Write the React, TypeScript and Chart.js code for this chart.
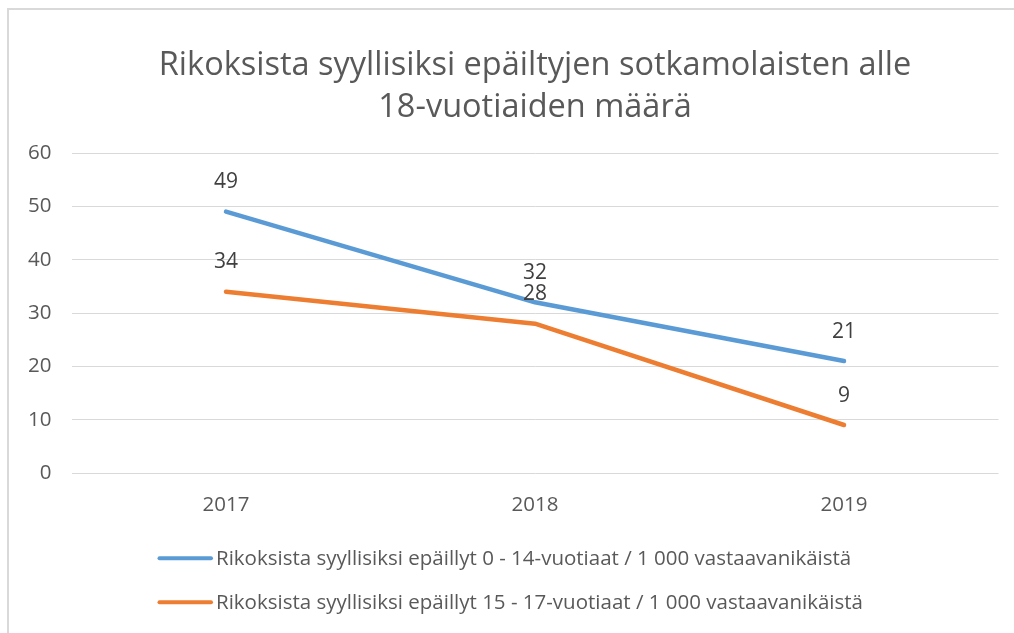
import React, { useEffect, useRef } from "react";
import { Chart, registerables } from "chart.js";

Chart.register(...registerables);

const TITLE_LINES = [
  "Rikoksista syyllisiksi epäiltyjen sotkamolaisten alle",
  "18-vuotiaiden määrä",
];
const YEARS = ["2017", "2018", "2019"];
const SERIES_LABELS = [
  "Rikoksista syyllisiksi epäillyt 0 - 14-vuotiaat / 1 000 vastaavanikäistä",
  "Rikoksista syyllisiksi epäillyt 15 - 17-vuotiaat / 1 000 vastaavanikäistä",
];
const VALUES_0_14 = [49, 32, 21];
const VALUES_15_17 = [34, 28, 9];
const SERIES_COLORS = ["#5B9BD5", "#ED7D31"];
const Y_MIN = 0;
const Y_MAX = 60;
const Y_STEP = 10;

const FONT = "'Open Sans', Lato, sans-serif";
const TEXT = "#595959";

const overlayPlugin = {
  id: "overlay",
  afterDatasetsDraw(chart: any) {
    const { ctx, chartArea } = chart;
    ctx.save();
    // data labels
    ctx.font = `21px ${FONT}`;
    ctx.fillStyle = "#404040";
    ctx.textAlign = "center";
    ctx.textBaseline = "alphabetic";
    chart.data.datasets.forEach((ds: any, i: number) => {
      const meta = chart.getDatasetMeta(i);
      meta.data.forEach((pt: any, j: number) => {
        ctx.fillText(String(ds.data[j]), pt.x, pt.y - 23.5);
      });
    });
    // title
    const cx = (chartArea.left + chartArea.right) / 2;
    ctx.font = `32.5px ${FONT}`;
    ctx.fillStyle = TEXT;
    TITLE_LINES.forEach((line, i) => {
      ctx.fillText(line, cx, 65 + i * 42);
    });
    // legend
    ctx.font = `20.5px ${FONT}`;
    ctx.textAlign = "left";
    chart.data.datasets.forEach((ds: any, i: number) => {
      const y = chartArea.bottom + 85.3 + i * 44;
      ctx.strokeStyle = ds.borderColor;
      ctx.lineWidth = 4;
      ctx.lineCap = "round";
      ctx.beginPath();
      ctx.moveTo(150.5, y);
      ctx.lineTo(202, y);
      ctx.stroke();
      ctx.fillStyle = TEXT;
      ctx.fillText(ds.label, 207, y + 6.5);
    });
    ctx.restore();
  },
};

export default function App() {
  const ref = useRef<HTMLCanvasElement | null>(null);
  useEffect(() => {
    if (!ref.current) return;
    const chart = new Chart(ref.current, {
      type: "line",
      data: {
        labels: YEARS,
        datasets: [
          {
            label: SERIES_LABELS[0],
            data: VALUES_0_14,
            borderColor: SERIES_COLORS[0],
            backgroundColor: SERIES_COLORS[0],
            borderWidth: 4.5,
            pointRadius: 0,
            borderCapStyle: "round",
            borderJoinStyle: "round",
            tension: 0,
          },
          {
            label: SERIES_LABELS[1],
            data: VALUES_15_17,
            borderColor: SERIES_COLORS[1],
            backgroundColor: SERIES_COLORS[1],
            borderWidth: 4.5,
            pointRadius: 0,
            borderCapStyle: "round",
            borderJoinStyle: "round",
            tension: 0,
          },
        ],
      },
      options: {
        responsive: false,
        animation: false,
        layout: { padding: { top: 143, right: 15.5, bottom: 100, left: 0 } },
        plugins: {
          legend: { display: false },
          title: { display: false },
          tooltip: { enabled: false },
        },
        scales: {
          x: {
            offset: true,
            grid: { display: false, drawTicks: false },
            border: { display: false },
            ticks: { color: TEXT, font: { family: FONT, size: 20.5 }, padding: 20 },
            afterFit: (axis: any) => {
              axis.height = 60;
            },
          },
          y: {
            min: Y_MIN,
            max: Y_MAX,
            ticks: { stepSize: Y_STEP, color: TEXT, font: { family: FONT, size: 20.5 }, padding: 20 },
            grid: { color: "#D9D9D9", lineWidth: 1, drawTicks: false },
            border: { display: false },
            afterFit: (axis: any) => {
              axis.width = 62.5;
            },
          },
        },
      },
      plugins: [overlayPlugin],
    });
    return () => chart.destroy();
  }, []);

  return (
    <div
      style={{
        position: "fixed",
        left: 7,
        top: 8,
        width: 1007,
        height: 625,
        boxSizing: "border-box",
        borderTop: "2px solid #D9D9D9",
        borderLeft: "2px solid #D9D9D9",
        background: "#fff",
        overflow: "hidden",
      }}
    >
      <canvas ref={ref} width={1005} height={623} style={{ display: "block" }} />
    </div>
  );
}
